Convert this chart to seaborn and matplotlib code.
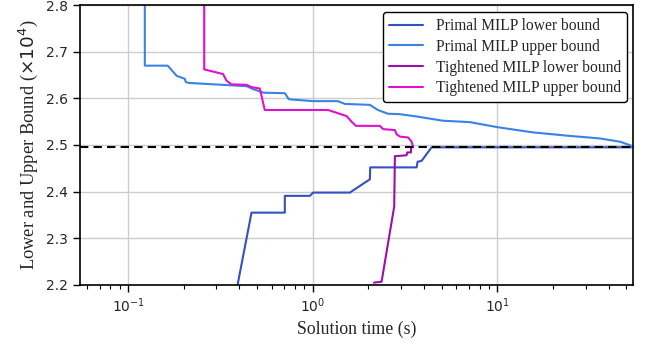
import pandas as pd
import seaborn as sns
from matplotlib import pyplot as plt

# Solution time (s) and bound values (x10^4)
primal_lb_t = [0.391, 0.4654, 0.705, 0.705, 0.9633, 1.004, 1.587, 2.037, 2.045,
               3.648, 3.694, 3.884, 4.40, 54.25]
primal_lb_v = [2.200, 2.355, 2.355, 2.391, 2.391, 2.398, 2.398, 2.4265, 2.452,
               2.452, 2.464, 2.466, 2.495, 2.495]

primal_ub_t = [0.123, 0.123, 0.1637, 0.1832, 0.2024, 0.2049, 0.2128, 0.4387, 0.4729,
               0.5425, 0.7049, 0.7413, 1.0, 1.366, 1.491, 2.037, 2.250, 2.550, 2.961,
               3.661, 5.065, 7.097, 8.038, 10.06, 15.57, 23.81, 35.94, 46.13, 52.27, 54.25]
primal_ub_v = [2.85, 2.670, 2.670, 2.648, 2.642, 2.635, 2.633, 2.626, 2.620,
               2.612, 2.611, 2.598, 2.594, 2.594, 2.588, 2.586, 2.575, 2.567, 2.566,
               2.561, 2.552, 2.549, 2.545, 2.538, 2.527, 2.520, 2.514, 2.507, 2.4995, 2.495]

tight_lb_t = [2.141, 2.357, 2.759, 2.783, 3.221, 3.245, 3.398, 3.41]
tight_lb_v = [2.205, 2.207, 2.368, 2.476, 2.478, 2.484, 2.484, 2.494]

tight_ub_t = [0.258, 0.258, 0.3265, 0.3405, 0.3625, 0.4370, 0.4654, 0.5161, 0.5493,
              1.210, 1.523, 1.621, 1.711, 2.307, 2.404, 2.783, 2.843, 2.961, 3.286,
              3.427, 3.497]
tight_ub_v = [2.85, 2.662, 2.652, 2.638, 2.630, 2.629, 2.624, 2.621, 2.575,
              2.575, 2.562, 2.550, 2.541, 2.541, 2.534, 2.532, 2.523, 2.518, 2.516,
              2.507, 2.495]

optimum = 2.495

series = {
    'Primal MILP lower bound': (primal_lb_t, primal_lb_v),
    'Primal MILP upper bound': (primal_ub_t, primal_ub_v),
    'Tightened MILP lower bound': (tight_lb_t, tight_lb_v),
    'Tightened MILP upper bound': (tight_ub_t, tight_ub_v),
}
colors = ['#3550c0', '#3a82e4', '#9a10a8', '#e010d0']

rows = []
for name, (t, v) in series.items():
    for ti, vi in zip(t, v):
        rows.append({'time': ti, 'bound': vi, 'series': name})
df = pd.DataFrame(rows)

sns.set_style('ticks')

fig, ax = plt.subplots(figsize=(6.48, 3.45), dpi=100)
fig.subplots_adjust(left=0.123, right=0.977, top=0.9855, bottom=0.174)

sns.lineplot(data=df, x='time', y='bound', hue='series', palette=colors,
             estimator=None, sort=False, linewidth=1.5, ax=ax)
ax.axhline(optimum, color='black', linestyle='--', linewidth=1.5, dashes=(4, 2.5), zorder=5)

ax.set_xscale('log')
ax.set_xlim(0.0546, 54.3)
ax.set_ylim(2.2, 2.8)
ax.set_yticks([2.2, 2.3, 2.4, 2.5, 2.6, 2.7, 2.8])
ax.grid(True, which='major', color='#cccccc', linewidth=1.0)
ax.set_axisbelow(True)
for s in ax.spines.values():
    s.set_linewidth(1.2)
    s.set_color('black')
ax.tick_params(axis='both', which='major', direction='out', length=5, width=1.0,
               labelsize=10, color='black')
ax.tick_params(axis='x', which='minor', direction='out', length=3, width=0.8, color='black')

serif = ['Liberation Serif', 'DejaVu Serif']
ax.set_xlabel('Solution time (s)', fontsize=12.8, family=serif)
ax.set_ylabel(r'Lower and Upper Bound ($\times 10^4$)', fontsize=13.3, family=serif)

leg = ax.legend(loc='upper right', bbox_to_anchor=(0.989, 0.975), borderaxespad=0,
                frameon=True, fancybox=True, framealpha=1, edgecolor='black',
                prop={'family': serif, 'size': 11.2}, handlelength=2.2,
                borderpad=0.4, labelspacing=0.3)
leg.get_frame().set_linewidth(1.0)

plt.savefig('out.png', dpi=100)
plt.close()
